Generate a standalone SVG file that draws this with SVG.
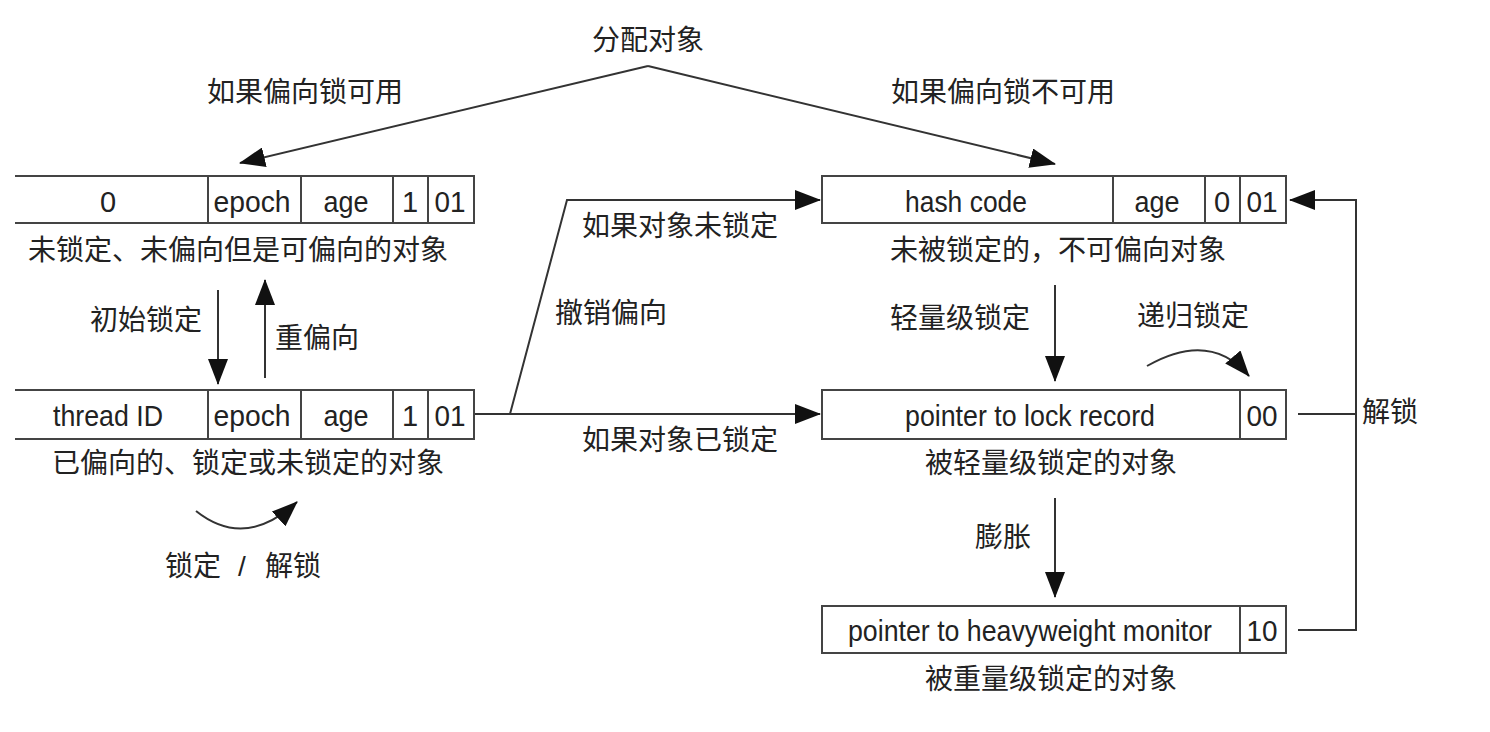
<svg xmlns="http://www.w3.org/2000/svg" width="1490" height="732" viewBox="0 0 1490 732">
<style>
.box{fill:#fff;stroke:#444;stroke-width:2}
.ln{fill:none;stroke:#444;stroke-width:2}
.conn{fill:none;stroke:#333;stroke-width:2}
text{font-family:"Liberation Sans","Noto Sans CJK SC",sans-serif;fill:#222}
.f{font-size:29px;text-anchor:middle}
.c{font-size:28px}
.cm{font-size:28px;text-anchor:middle}
</style>
<defs>
<marker id="ah" viewBox="0 0 26 20" refX="25" refY="10" markerWidth="26" markerHeight="20" markerUnits="userSpaceOnUse" orient="auto">
<path d="M0,0 L26,10 L0,20 Z" fill="#111"/>
</marker>
</defs>
<rect width="1490" height="732" fill="#fff"/>

<g id="connectors">
<line class="conn" x1="648" y1="66" x2="240" y2="163" marker-end="url(#ah)"/>
<line class="conn" x1="648" y1="66" x2="1055" y2="164" marker-end="url(#ah)"/>
<line class="conn" x1="218" y1="290" x2="218" y2="384" marker-end="url(#ah)"/>
<line class="conn" x1="265" y1="378" x2="265" y2="280" marker-end="url(#ah)"/>
<path class="conn" d="M474,414 H510 L567,200 H820" marker-end="url(#ah)"/>
<line class="conn" x1="510" y1="414" x2="820" y2="414" marker-end="url(#ah)"/>
<line class="conn" x1="1055" y1="285" x2="1055" y2="381" marker-end="url(#ah)"/>
<line class="conn" x1="1055" y1="498" x2="1055" y2="597" marker-end="url(#ah)"/>
<path class="conn" d="M1147,366 Q1210,330 1249,376" marker-end="url(#ah)"/>
<path class="conn" d="M196,511 Q245,550 297,502" marker-end="url(#ah)"/>
<path class="conn" d="M1298,414 H1356 M1298,630 H1356 V200 H1290" marker-end="url(#ah)"/>
</g>

<g id="alloc"><text class="cm" x="648" y="50">分配对象</text></g>
<g id="lbl-biased-ok"><text class="cm" x="305" y="102">如果偏向锁可用</text></g>
<g id="lbl-biased-no"><text class="cm" x="1003" y="102">如果偏向锁不可用</text></g>

<g id="node-unlocked-biasable">
<path class="ln" d="M15,176 H474 V223 H15 M208,176 V223 M301,176 V223 M393,176 V223 M428,176 V223"/>
<text class="f" x="108" y="212">0</text>
<text class="f" x="252" y="212" textLength="77" lengthAdjust="spacingAndGlyphs">epoch</text>
<text class="f" x="346" y="212" textLength="45" lengthAdjust="spacingAndGlyphs">age</text>
<text class="f" x="410" y="212">1</text>
<text class="f" x="450" y="212" textLength="31" lengthAdjust="spacingAndGlyphs">01</text>
<text class="cm" x="238" y="260">未锁定、未偏向但是可偏向的对象</text>
</g>

<g id="node-biased">
<path class="ln" d="M15,390 H474 V439 H15 M208,390 V439 M301,390 V439 M393,390 V439 M428,390 V439"/>
<text class="f" x="108" y="426" textLength="110" lengthAdjust="spacingAndGlyphs">thread ID</text>
<text class="f" x="252" y="426" textLength="77" lengthAdjust="spacingAndGlyphs">epoch</text>
<text class="f" x="346" y="426" textLength="45" lengthAdjust="spacingAndGlyphs">age</text>
<text class="f" x="410" y="426">1</text>
<text class="f" x="450" y="426" textLength="31" lengthAdjust="spacingAndGlyphs">01</text>
<text class="cm" x="248" y="473">已偏向的、锁定或未锁定的对象</text>
</g>

<g id="node-unlocked">
<rect class="box" x="822" y="176" width="464" height="47"/>
<path class="ln" d="M1113,176 V223 M1205,176 V223 M1240,176 V223"/>
<text class="f" x="966" y="212" textLength="122" lengthAdjust="spacingAndGlyphs">hash code</text>
<text class="f" x="1157" y="212" textLength="45" lengthAdjust="spacingAndGlyphs">age</text>
<text class="f" x="1222" y="212">0</text>
<text class="f" x="1262" y="212" textLength="31" lengthAdjust="spacingAndGlyphs">01</text>
<text class="cm" x="1058" y="260">未被锁定的，不可偏向对象</text>
</g>

<g id="node-light">
<rect class="box" x="822" y="390" width="464" height="49"/>
<path class="ln" d="M1240,390 V439"/>
<text class="f" x="1030" y="426" textLength="250" lengthAdjust="spacingAndGlyphs">pointer to lock record</text>
<text class="f" x="1262" y="426" textLength="31" lengthAdjust="spacingAndGlyphs">00</text>
<text class="cm" x="1051" y="473">被轻量级锁定的对象</text>
</g>

<g id="node-heavy">
<rect class="box" x="822" y="606" width="464" height="47"/>
<path class="ln" d="M1240,606 V653"/>
<text class="f" x="1030" y="641" textLength="364" lengthAdjust="spacingAndGlyphs">pointer to heavyweight monitor</text>
<text class="f" x="1262" y="641" textLength="31" lengthAdjust="spacingAndGlyphs">10</text>
<text class="cm" x="1051" y="689">被重量级锁定的对象</text>
</g>

<g id="labels">
<text class="c" x="90" y="330">初始锁定</text>
<text class="c" x="275" y="348">重偏向</text>
<text class="c" x="582" y="236">如果对象未锁定</text>
<text class="c" x="555" y="323">撤销偏向</text>
<text class="c" x="582" y="450">如果对象已锁定</text>
<text class="c" x="890" y="328">轻量级锁定</text>
<text class="c" x="1137" y="326">递归锁定</text>
<text class="c" x="975" y="547">膨胀</text>
<text class="c" x="1362" y="422">解锁</text>
<text class="c" x="165" y="576">锁定</text>
<text class="c" x="238" y="576">/</text>
<text class="c" x="265" y="576">解锁</text>
</g>
</svg>
